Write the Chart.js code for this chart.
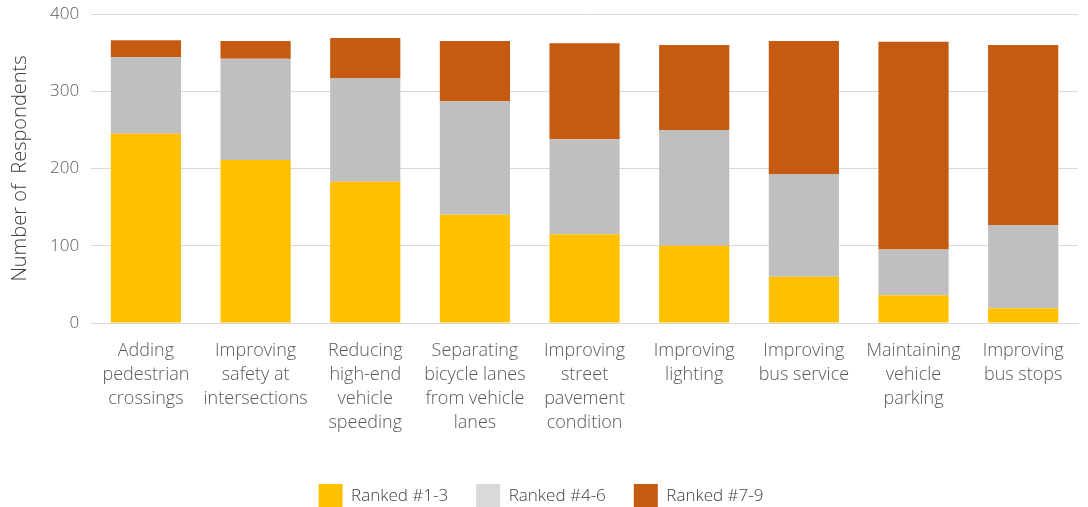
<!DOCTYPE html>
<html>
<head>
<meta charset="utf-8">
<script src="https://cdn.jsdelivr.net/npm/chart.js@4"></script>
<style>
  html, body { margin: 0; padding: 0; background: #fff; }
  #wrap { width: 1088px; height: 507px; position: relative; }
</style>
</head>
<body>
<div id="wrap"><canvas id="chart"></canvas></div>
<script>
const categories = [
  ["Adding", "pedestrian", "crossings"],
  ["Improving", "safety at", "intersections"],
  ["Reducing", "high-end", "vehicle", "speeding"],
  ["Separating", "bicycle lanes", "from vehicle", "lanes"],
  ["Improving", "street", "pavement", "condition"],
  ["Improving", "lighting"],
  ["Improving", "bus service"],
  ["Maintaining", "vehicle", "parking"],
  ["Improving", "bus stops"]
];
const ranked13 = [245, 211, 183, 140, 115, 100, 60, 36, 19];
const ranked46 = [99, 131, 134, 147, 123, 150, 133, 59, 108];
const ranked79 = [22, 23, 52, 78, 124, 110, 172, 269, 233];
const yTicks = [0, 100, 200, 300, 400];

const font = "'Open Sans', sans-serif";
const legendColors = ["#FFC000", "#D9D9D9", "#C55A11"];

new Chart(document.getElementById("chart"), {
  type: "bar",
  data: {
    labels: categories,
    datasets: [
      { label: "Ranked #1-3", data: ranked13, backgroundColor: "#FFC000" },
      { label: "Ranked #4-6", data: ranked46, backgroundColor: "#BFBFBF" },
      { label: "Ranked #7-9", data: ranked79, backgroundColor: "#C55A11" }
    ]
  },
  options: {
    responsive: true,
    maintainAspectRatio: false,
    animation: false,
    datasets: { bar: { categoryPercentage: 1, barPercentage: 0.64 } },
    layout: { padding: { left: 4, right: 10, top: 14, bottom: -11 } },
    plugins: {
      tooltip: { enabled: false },
      legend: {
        position: "bottom",
        labels: {
          font: { family: font, size: 17, weight: 300 },
          color: "#404040",
          boxWidth: 24,
          boxHeight: 24,
          padding: 28,
          generateLabels: (chart) => chart.data.datasets.map((ds, i) => ({
            text: ds.label,
            fillStyle: legendColors[i],
            strokeStyle: legendColors[i],
            lineWidth: 0,
            datasetIndex: i,
            fontColor: "#404040"
          }))
        }
      }
    },
    scales: {
      x: {
        stacked: true,
        grid: { display: false },
        border: { color: "#D9D9D9" },
        ticks: {
          font: { family: font, size: 18, weight: 300, lineHeight: 1.33 },
          color: "#595959",
          maxRotation: 0,
          autoSkip: false,
          padding: 8
        },
        afterFit: (s) => { s.height = 133; }
      },
      y: {
        stacked: true,
        min: 0,
        max: 400,
        afterBuildTicks: (s) => { s.ticks = yTicks.map(v => ({ value: v })); },
        afterFit: (s) => { s.paddingTop = 0; s.paddingBottom = 0; },
        grid: { color: "#D9D9D9", drawTicks: false },
        border: { display: false },
        ticks: {
          font: { family: font, size: 17, weight: 300 },
          color: "#595959",
          padding: 12
        },
        title: {
          display: true,
          text: "Number of  Respondents",
          font: { family: font, size: 20, weight: 300 },
          color: "#404040",
          padding: { bottom: 6 }
        }
      }
    }
  }
});
</script>
</body>
</html>
